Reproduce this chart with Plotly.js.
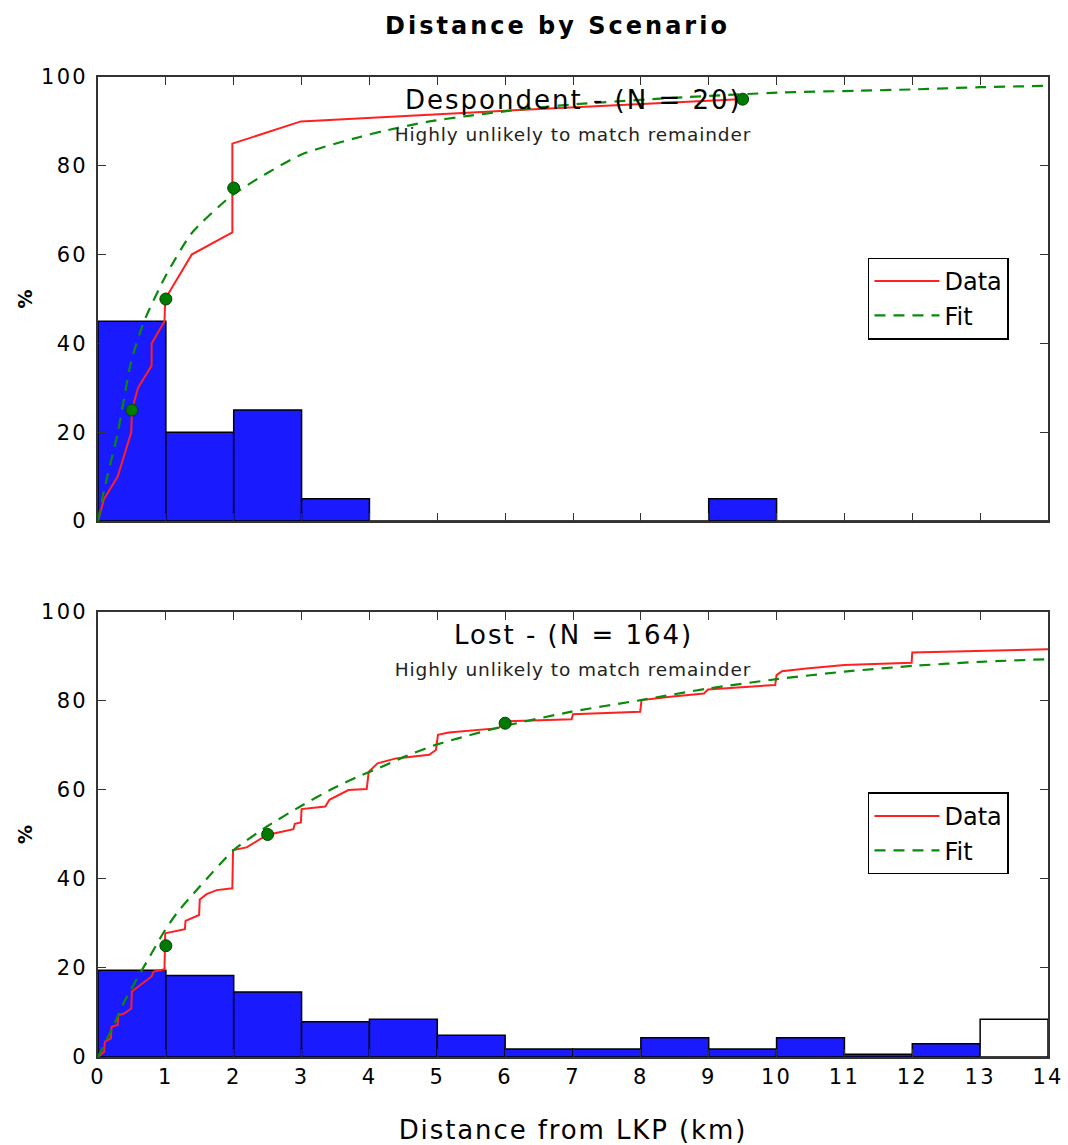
<!DOCTYPE html>
<html>
<head>
<meta charset="utf-8">
<script src="https://cdn.plot.ly/plotly-3.0.1.min.js"></script>
<style>
html,body{margin:0;padding:0;background:#fff;}
#chart{width:1068px;height:1145px;}
#chart .gtitle{letter-spacing:3px;}
#chart g.annotation[data-index="0"] text, #chart g.annotation[data-index="2"] text{letter-spacing:2px;}
#chart g.annotation[data-index="1"] text, #chart g.annotation[data-index="3"] text{letter-spacing:0.9px;}
#chart .xtick text, #chart .ytick text, #chart .x2tick text, #chart .y2tick text{letter-spacing:2.2px;}
#chart .g-xtitle text{letter-spacing:1.9px;}
</style>
</head>
<body>
<div id="chart"></div>
<script>
// ---------- data ----------
const binCenters = [0.5,1.5,2.5,3.5,4.5,5.5,6.5,7.5,8.5,9.5,10.5,11.5,12.5,13.5];

// Despondent (N = 20)
const despPct = [45,20,25,5,0,0,0,0,0,5,0,0,0,0];
const despDataX = [0,0.09,0.29,0.49,0.5,0.59,0.79,0.79,0.98,0.99,1.38,1.98,1.98,2.99,6.5,9.45];
const despDataY = [0,5,10,20,25,30,35,40,45,50,60,65,85,90,92.8,95];
const despFitX = [0,0.09,0.29,0.49,0.68,0.99,1.38,1.98,2.99,3.86,4.2,4.85,5.43,6.41,7.15,8.47,10.05,11.18,12,13,14];
const despFitY = [0,7,19.8,36,45,55,64.8,73.4,82.5,86.5,87.8,89.9,91.2,93.0,94.0,95.3,96.5,96.9,97.2,97.7,98];
const despQX = [0.5,1,2,9.5];
const despQY = [25,50,75,95];

// Lost (N = 164)
const lostPct = [19.5,18.3,14.6,7.9,8.5,4.9,1.8,1.8,4.3,1.8,4.3,0.6,3.0,8.5];
const lostRemainder = [false,false,false,false,false,false,false,false,false,false,false,false,false,true];
const lostDataX = [0,0.09,0.1,0.19,0.2,0.29,0.3,0.39,0.49,0.5,0.59,0.69,0.79,0.82,0.98,0.99,1.28,1.29,1.49,1.5,1.6,1.75,1.98,1.99,2.19,2.49,2.88,2.9,2.99,3.0,3.35,3.41,3.69,3.96,3.99,4.12,4.39,4.88,4.98,5.01,5.17,5.9,6.0,6.98,7.0,7.99,8.01,8.47,8.93,8.99,9.52,9.98,10.0,10.08,10.44,11.0,11.99,12.0,14.0];
const lostDataY = [0,1.2,3.4,4.2,6.8,7.2,9.4,9.8,10.9,14.7,15.8,16.9,18.1,19.2,19.7,27.8,28.7,30.6,31.9,35.4,36.6,37.5,37.9,46.5,47.1,49.9,51.2,52.4,52.7,55.7,56.3,57.8,60,60.2,64.1,66,67.1,67.9,69,72.4,72.9,73.9,75.4,75.9,77,77.6,80.2,81,81.7,82.6,83.1,83.6,85.8,86.7,87.3,88.1,88.6,90.9,91.6];
const lostFitX = [0,0.2,0.4,0.59,0.79,0.96,1.16,1.5,2,2.49,2.98,3.47,3.86,4.12,4.52,5.01,6.0,6.98,8.0,8.99,10.0,11.0,12.02,13.0,14.0];
const lostFitY = [0,6.1,12.8,18,23.3,27.8,32.3,38.3,46.5,51.8,56.3,60.4,63.2,64.8,67.5,70.3,74.4,77.6,80.2,82.8,84.9,86.6,87.9,88.8,89.4];
const lostQX = [1,2.5,6];
const lostQY = [25,50,75];

const panelTitles = ["Despondent - (N = 20)", "Lost - (N = 164)"];
const panelNote = "Highly unlikely to match remainder";
const xTicks = [0,1,2,3,4,5,6,7,8,9,10,11,12,13,14];
const yTicks = [0,20,40,60,80,100];

// ---------- styles ----------
const FONT = "DejaVu Sans";
const BLUE = "#1a1aff";
const RED = "#ff2020";
const GREEN = "#0a8a0a";
const DOT = "#007a00";
const AX = "#333333";

function bars(y, xa, ya, colors) {
  return {type:'bar', x: binCenters, y: y, width: 1, xaxis: xa, yaxis: ya,
    marker:{color: colors || BLUE, line:{color:'#000', width:1.5}}, showlegend:false, hoverinfo:'skip'};
}
function dataLine(x, y, xa, ya, leg) {
  return {type:'scatter', mode:'lines', x:x, y:y, xaxis:xa, yaxis:ya, name:'Data',
    line:{color:RED, width:2}, legend: leg};
}
function fitLine(x, y, xa, ya, leg) {
  return {type:'scatter', mode:'lines', x:x, y:y, xaxis:xa, yaxis:ya, name:'Fit',
    line:{color:GREEN, width:2.2, dash:'11px,8px', shape:'spline', smoothing:0.6}, legend: leg};
}
function dots(x, y, xa, ya) {
  return {type:'scatter', mode:'markers', x:x, y:y, xaxis:xa, yaxis:ya, showlegend:false,
    marker:{color:DOT, size:12, line:{color:'#004400', width:1}}};
}

const lostColors = lostRemainder.map(r => r ? '#ffffff' : BLUE);

const traces = [
  bars(despPct, 'x2', 'y2'),
  dataLine(despDataX, despDataY, 'x2', 'y2', 'legend'),
  fitLine(despFitX, despFitY, 'x2', 'y2', 'legend'),
  dots(despQX, despQY, 'x2', 'y2'),
  bars(lostPct, 'x', 'y', lostColors),
  dataLine(lostDataX, lostDataY, 'x', 'y', 'legend2'),
  fitLine(lostFitX, lostFitY, 'x', 'y', 'legend2'),
  dots(lostQX, lostQY, 'x', 'y')
];

function xAxis(anchor, showLabels, withTitle) {
  const a = {range:[0,14], anchor:anchor, tickvals:xTicks, ticktext:xTicks.map(String),
    ticks:'inside', ticklen:8, tickwidth:1, tickcolor:AX, showgrid:false, zeroline:false,
    showline:true, linecolor:AX, linewidth:2, mirror:'ticks', showticklabels:showLabels,
    tickfont:{family:FONT, size:21, color:'#000'}, ticklabelstandoff:0};
  if (withTitle) a.title = {text:'Distance from LKP (km)', font:{family:FONT, size:26, color:'#000'}, standoff:33};
  return a;
}
function yAxis(anchor, domain) {
  return {range:[0,100], domain:domain, anchor:anchor, tickvals:yTicks, ticktext:yTicks.map(String),
    ticks:'inside', ticklen:8, tickwidth:1, tickcolor:AX, showgrid:false, zeroline:false,
    showline:true, linecolor:AX, linewidth:2, mirror:'ticks',
    tickfont:{family:FONT, size:21, color:'#000'}, ticklabelstandoff:4,
    title:{text:'<b>%</b>', font:{family:FONT, size:19, color:'#000'}, standoff:10}};
}

function legendBox(y) {
  return {x:0.8105, y:y, xanchor:'left', yanchor:'top', bgcolor:'#fff', bordercolor:'#000', borderwidth:1.5,
    font:{family:FONT, size:24, color:'#000'}, tracegroupgap:0, itemwidth:65};
}

const annotations = [];
[['x2','y2',0], ['x','y',1]].forEach(([xa,ya,i]) => {
  annotations.push({xref:xa, yref:ya, x:7, y:94.8, text:panelTitles[i], showarrow:false,
    font:{family:FONT, size:26, color:'#000'}});
  annotations.push({xref:xa, yref:ya, x:7, y:87.0, text:panelNote, showarrow:false,
    font:{family:FONT, size:18.5, color:'#222'}});
});

const layout = {
  width:1068, height:1145,
  margin:{l:98, r:20, t:77, b:88},
  paper_bgcolor:'#fff', plot_bgcolor:'#fff',
  title:{text:'<b>Distance by Scenario</b>', x:0.522, xanchor:'center', y:0.978, yanchor:'middle',
    font:{family:FONT, size:24, color:'#000'}},
  font:{family:FONT},
  bargap:0,
  xaxis: xAxis('y', true, true),
  yaxis: yAxis('x', [0, 0.4541]),
  xaxis2: xAxis('y2', false, false),
  yaxis2: yAxis('x2', [0.5469, 1]),
  legend: legendBox(0.8158),
  legend2: legendBox(0.2699),
  annotations: annotations,
  showlegend:true
};

Plotly.newPlot('chart', traces, layout, {staticPlot:true, displayModeBar:false});
</script>
</body>
</html>
